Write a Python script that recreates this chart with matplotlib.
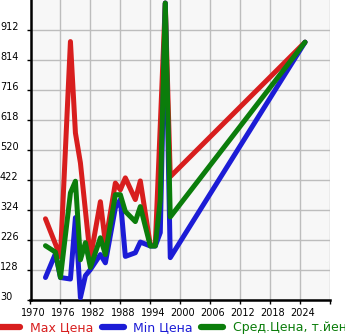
import matplotlib
matplotlib.use("Agg")
import matplotlib.pyplot as plt
from matplotlib.lines import Line2D
import matplotlib.transforms as mtransforms

# ---- data ----
max_years = [1973, 1976, 1978, 1979, 1980, 1982, 1984, 1985, 1987, 1988, 1989,
             1991, 1992, 1994, 1995, 1996, 1997, 1998, 2025]
max_price = [294, 170, 874, 575, 477, 165, 350, 215, 411, 389, 428,
             357, 418, 208, 208, 600, 1000, 432, 872]

min_years = [1973, 1975, 1976, 1978, 1979, 1980, 1981, 1982, 1984, 1985, 1987,
             1988, 1989, 1991, 1992, 1994, 1995, 1996, 1997, 1998, 2025]
min_price = [102, 180, 102, 97, 298, 36, 108, 128, 177, 150, 330,
             357, 171, 183, 218, 205, 205, 249, 1000, 167, 872]

avg_years = [1973, 1975, 1976, 1978, 1979, 1980, 1981, 1982, 1984, 1985, 1987,
             1988, 1989, 1991, 1992, 1994, 1995, 1996, 1997, 1998, 2025]
avg_price = [206, 185, 102, 379, 417, 160, 216, 135, 232, 177, 373,
             373, 318, 285, 334, 205, 205, 357, 1000, 300, 872]

x_ticks = [1970, 1976, 1982, 1988, 1994, 2000, 2006, 2012, 2018, 2024, 2030]
x_labels = ["1970", "1976", "1982", "1988", "1994", "2000", "2006", "2012", "2018", "2024", ""]
y_ticks = [30, 128, 226, 324, 422, 520, 618, 716, 814, 912]

labels = ["Max Цена", "Min Цена", "Сред.Цена, т.йен"]
colors = ["#d81e1e", "#1c1cd6", "#0b7d0b"]

W, H = 345, 335
fig = plt.figure(figsize=(W / 100, H / 100), dpi=100)
ax = fig.add_axes([30.5 / W, (H - 299.5) / H, (330 - 30.5) / W, 299.5 / H])
ax.set_facecolor("#f7f7f7")

for xs, ys, c in [(max_years, max_price, colors[0]),
                  (min_years, min_price, colors[1]),
                  (avg_years, avg_price, colors[2])]:
    ax.plot(xs, ys, color=c, lw=3.6, solid_capstyle="round",
            solid_joinstyle="round", zorder=3)

ax.set_xlim(1970, 2030)
ax.set_ylim(30, 1010)
ax.set_xticks(x_ticks)
ax.set_xticklabels(x_labels)
ax.set_yticks(y_ticks)
ax.set_yticklabels([str(v) for v in y_ticks])
ax.grid(True, color="#bdbdbd", lw=1.0, zorder=1)
ax.set_axisbelow(True)

for s in ["top", "right"]:
    ax.spines[s].set_visible(False)
for s in ["left", "bottom"]:
    ax.spines[s].set_color("black")
    ax.spines[s].set_linewidth(1.8)

ax.tick_params(axis="x", length=3, width=1, color="black", labelsize=7, pad=3)
ax.tick_params(axis="y", length=3, width=1, color="black", labelsize=7, pad=19)
for lbl in ax.get_yticklabels():
    lbl.set_horizontalalignment("left")
    lbl.set_verticalalignment("baseline")
off = mtransforms.ScaledTranslation(2.5 / 100, 0, fig.dpi_scale_trans)
for lbl in ax.get_xticklabels():
    lbl.set_transform(lbl.get_transform() + off)

handles = [Line2D([0], [0], color=c, lw=4.5, solid_capstyle="round") for c in colors]
leg = fig.legend(handles, labels, loc="center left", bbox_to_anchor=(-0.005, (H - 328) / H),
                 ncol=3, frameon=False, fontsize=9, handlelength=1.75,
                 handletextpad=0.75, columnspacing=0.7, borderpad=0, borderaxespad=0,
                 labelcolor="linecolor")

fig.savefig("out.png", dpi=100)
